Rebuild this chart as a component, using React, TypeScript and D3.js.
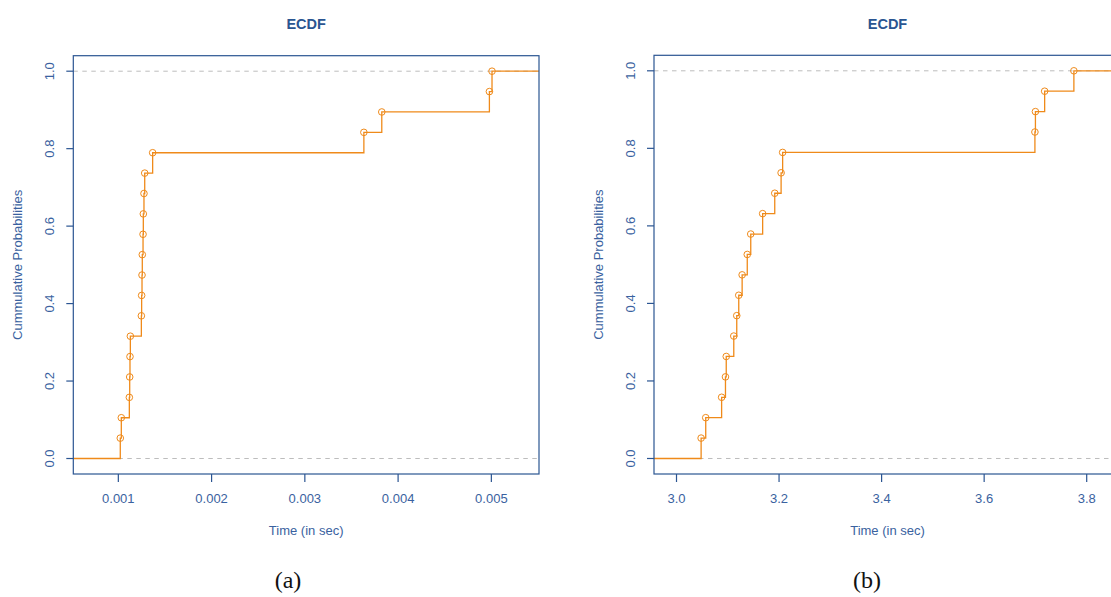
import React from "react";
import * as d3 from "d3";

// ---- Data ----
const probs: number[] = Array.from({ length: 19 }, (_, i) => (i + 1) / 19);

const timesA: number[] = [
  0.001021, 0.001032, 0.001118, 0.001122, 0.001125, 0.001129, 0.001247,
  0.00125, 0.001254, 0.001257, 0.001265, 0.001268, 0.001275, 0.001283,
  0.001368, 0.003633, 0.003825, 0.004979, 0.005007,
];
const timesB: number[] = [
  3.048, 3.057, 3.088, 3.0955, 3.097, 3.1117, 3.1175, 3.1214, 3.128, 3.138,
  3.1448, 3.168, 3.1916, 3.204, 3.207, 3.699, 3.7, 3.718, 3.775,
];

const ticksA: number[] = [0.001, 0.002, 0.003, 0.004, 0.005];
const tickLabelsA: string[] = ["0.001", "0.002", "0.003", "0.004", "0.005"];
const ticksB: number[] = [3.0, 3.2, 3.4, 3.6, 3.8];
const tickLabelsB: string[] = ["3.0", "3.2", "3.4", "3.6", "3.8"];
const yTicks: number[] = [0, 0.2, 0.4, 0.6, 0.8, 1.0];
const yTickLabels: string[] = ["0.0", "0.2", "0.4", "0.6", "0.8", "1.0"];

const TITLE = "ECDF";
const XLABEL = "Time (in sec)";
const YLABEL = "Cummulative Probabilities";

const AXIS_COLOR = "#2b5592";
const TEXT_COLOR = "#3a62a0";
const TITLE_COLOR = "#2a5591";
const LINE_COLOR = "#ef8a1a";
const DASH_COLOR = "#bdbdbd";
const SANS = "'Liberation Sans', Arial, Helvetica, sans-serif";

function rDomain(xs: number[]): [number, number] {
  const lo = d3.min(xs)!;
  const hi = d3.max(xs)!;
  const diffs = xs.slice(1).map((v, i) => v - xs[i]);
  const dr = Math.max(0.08 * (hi - lo), d3.median(diffs)!);
  const a = lo - dr;
  const b = hi + dr;
  const e = 0.04 * (b - a);
  return [a - e, b + e];
}

interface PanelProps {
  id: string;
  xs: number[];
  ps: number[];
  ticks: number[];
  tickLabels: string[];
  left: number;
  right: number;
  top: number;
  bottom: number;
  caption: string;
  captionX: number;
}

function Panel(p: PanelProps) {
  const { xs, ps, left, right, top, bottom } = p;
  const x = d3.scaleLinear().domain(rDomain(xs)).range([left, right]);
  const y = d3.scaleLinear().domain([-0.04, 1.04]).range([bottom, top]);
  const [d0, d1] = x.domain();
  const span = d1 - d0;

  // step function points
  const pts: [number, number][] = [[d0 - span, 0]];
  xs.forEach((v, i) => {
    pts.push([v, i === 0 ? 0 : ps[i - 1]]);
    pts.push([v, ps[i]]);
  });
  pts.push([d1 + span, ps[ps.length - 1]]);
  const line = d3
    .line<[number, number]>()
    .x((d) => x(d[0]))
    .y((d) => y(d[1]));

  const cx = (left + right) / 2;
  const cy = (top + bottom) / 2;
  const clipId = "clip-" + p.id;

  return (
    <g>
      <defs>
        <clipPath id={clipId}>
          <rect x={left} y={top} width={right - left} height={bottom - top} />
        </clipPath>
      </defs>
      <text
        x={cx}
        y={29}
        textAnchor="middle"
        fontFamily={SANS}
        fontWeight="bold"
        fontSize={14.5}
        fill={TITLE_COLOR}
      >
        {TITLE}
      </text>
      <g clipPath={`url(#${clipId})`}>
        {[0, 1].map((h) => (
          <line
            key={h}
            x1={left}
            x2={right}
            y1={y(h)}
            y2={y(h)}
            stroke={DASH_COLOR}
            strokeWidth={1}
            strokeDasharray="4.5,4.5"
          />
        ))}
        <path d={line(pts) || ""} fill="none" stroke={LINE_COLOR} strokeWidth={1.3} />
        {xs.map((v, i) => (
          <circle
            key={i}
            cx={x(v)}
            cy={y(ps[i])}
            r={3.3}
            fill="none"
            stroke={LINE_COLOR}
            strokeWidth={1}
          />
        ))}
      </g>
      <rect
        x={left}
        y={top}
        width={right - left}
        height={bottom - top}
        fill="none"
        stroke={AXIS_COLOR}
        strokeWidth={1.2}
      />
      {p.ticks.map((t, i) => (
        <g key={i}>
          <line
            x1={x(t)}
            x2={x(t)}
            y1={bottom}
            y2={bottom + 8}
            stroke={AXIS_COLOR}
            strokeWidth={1.2}
          />
          <text
            x={x(t)}
            y={503}
            textAnchor="middle"
            fontFamily={SANS}
            fontSize={13}
            fill={TEXT_COLOR}
          >
            {p.tickLabels[i]}
          </text>
        </g>
      ))}
      {yTicks.map((t, i) => (
        <g key={i}>
          <line
            x1={left - 7}
            x2={left}
            y1={y(t)}
            y2={y(t)}
            stroke={AXIS_COLOR}
            strokeWidth={1.2}
          />
          <text
            transform={`translate(${left - 19.5},${y(t)}) rotate(-90)`}
            textAnchor="middle"
            fontFamily={SANS}
            fontSize={13}
            fill={TEXT_COLOR}
          >
            {yTickLabels[i]}
          </text>
        </g>
      ))}
      <text
        x={cx}
        y={535}
        textAnchor="middle"
        fontFamily={SANS}
        fontSize={13}
        fill={TEXT_COLOR}
      >
        {XLABEL}
      </text>
      <text
        transform={`translate(${left - 51},${cy}) rotate(-90)`}
        textAnchor="middle"
        fontFamily={SANS}
        fontSize={13}
        fill={TEXT_COLOR}
      >
        {YLABEL}
      </text>
      <text
        x={p.captionX}
        y={588}
        textAnchor="middle"
        fontFamily="'Liberation Serif', 'Times New Roman', serif"
        fontSize={24}
        fill="#111"
      >
        {p.caption}
      </text>
    </g>
  );
}

export default function App() {
  return (
    <svg
      width={1111}
      height={597}
      style={{ position: "absolute", left: 0, top: 0, background: "#fff" }}
    >
      <rect x={0} y={0} width={1111} height={597} fill="#fff" />
      <Panel
        id="a"
        xs={timesA}
        ps={probs}
        ticks={ticksA}
        tickLabels={tickLabelsA}
        left={73.3}
        right={539}
        top={55.7}
        bottom={474}
        caption="(a)"
        captionX={288}
      />
      <Panel
        id="b"
        xs={timesB}
        ps={probs}
        ticks={ticksB}
        tickLabels={tickLabelsB}
        left={654}
        right={1121}
        top={55.3}
        bottom={474}
        caption="(b)"
        captionX={867}
      />
    </svg>
  );
}
